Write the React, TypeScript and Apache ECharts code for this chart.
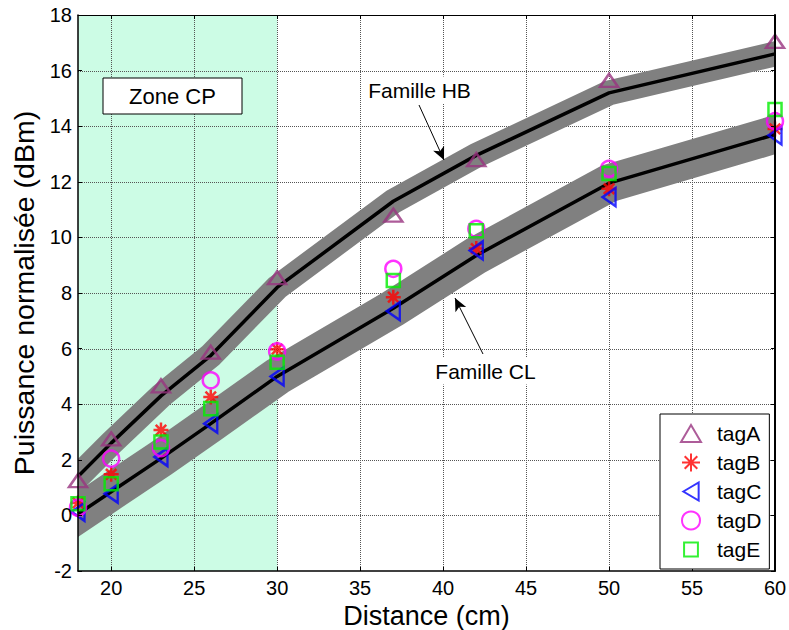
import React, { useEffect, useRef } from 'react';
import * as echarts from 'echarts';

const distances = [18, 20, 23, 26, 30, 37, 42, 50, 60];
const tagA = [1.25, 2.75, 4.66, 5.87, 8.55, 10.8, 12.8, 15.65, 17.05];
const tagB = [0.45, 1.48, 3.07, 4.26, 5.98, 7.85, 9.6, 11.75, 13.9];
const tagC = [0.13, 0.78, 2.1, 3.3, 5.0, 7.35, 9.53, 11.45, 13.67];
const tagD = [0.28, 2.04, 2.42, 4.86, 5.9, 8.87, 10.31, 12.47, 14.18];
const tagE = [0.42, 1.14, 2.64, 3.84, 5.51, 8.45, 10.24, 12.3, 14.6];
const familleHB = [1.4, 2.6, 4.3, 5.75, 8.2, 11.3, 12.95, 15.2, 16.6];
const familleCL = [0.05, 0.85, 2.05, 3.3, 5.0, 7.45, 9.35, 11.95, 13.7];
const xTicks = [20, 25, 30, 35, 40, 45, 50, 55, 60];
const yTicks = [-2, 0, 2, 4, 6, 8, 10, 12, 14, 16, 18];
const xRange = [18, 60];
const yRange = [-2, 18];
const yStep = 2;
const zoneCP = [18, 30];

const FONT = "'Liberation Sans', Arial, Helvetica, sans-serif";
const ASTERISK = 'path://M10,0 L10,20 M0,10 L20,10 M3,3 L17,17 M3,17 L17,3';
const TRI_UP = 'path://M10,0 L20,17 L0,17 Z';
const TRI_LEFT = 'path://M0,10 L17,0 L17,20 Z';
const SQUARE = 'path://M-1.5,-1.5 M0,0 L10,0 L10,10 L0,10 Z M11.5,11.5';

const tags = [
  { name: 'tagA', values: tagA, color: '#993380', symbol: TRI_UP, size: [18, 15.3] },
  { name: 'tagB', values: tagB, color: '#ff0000', symbol: ASTERISK, size: [15, 15] },
  { name: 'tagC', values: tagC, color: '#0000ff', symbol: TRI_LEFT, size: [15.3, 18] },
  { name: 'tagD', values: tagD, color: '#ff00ff', symbol: 'circle', size: [16, 16] },
  { name: 'tagE', values: tagE, color: '#00ee00', symbol: SQUARE, size: [17, 17] },
];

const pairs = (vals: number[]) => distances.map((d, i) => [d, vals[i]]);

const bandSeries = (vals: number[], width: number) => ({
  type: 'custom',
  data: pairs(vals),
  encode: { x: 0, y: 1 },
  clip: true,
  silent: true,
  z: 2,
  renderItem: (params: any, api: any) => {
    if (params.dataIndex !== 0) return null;
    const pts = distances.map((d, i) => api.coord([d, vals[i]]));
    return {
      type: 'polyline',
      shape: { points: pts },
      style: { stroke: '#808080', lineWidth: width, fill: null, lineJoin: 'miter', lineCap: 'square' },
    };
  },
});

// Zone CP shading (translucent, so grid lines always show through)
const zoneSeries = {
  type: 'custom',
  data: [[zoneCP[0], zoneCP[1]]],
  encode: { x: [0, 1] },
  clip: true,
  silent: true,
  z: 0.5,
  renderItem: (params: any, api: any) => {
    const tl = api.coord([zoneCP[0], yRange[1]]);
    const br = api.coord([zoneCP[1], yRange[0]]);
    return {
      type: 'rect', z2: -10,
      shape: { x: tl[0], y: tl[1], width: br[0] - tl[0], height: br[1] - tl[1] },
      style: { fill: 'rgba(51,243,151,0.25)' },
    };
  },
};

const gridSeries = {
  type: 'custom',
  data: [[xRange[0], yRange[0]]],
  encode: { x: 0, y: 1 },
  clip: true,
  silent: true,
  z: 1.5,
  renderItem: (params: any, api: any) => {
    const children: any[] = [];
    const gridStyle = { stroke: '#555555', lineWidth: 1, lineDash: [1, 1], fill: null };
    xTicks.forEach((v) => {
      const a = api.coord([v, yRange[0]]);
      const b = api.coord([v, yRange[1]]);
      const x = Math.round(a[0]) + 0.5;
      children.push({ type: 'line', z2: 10, shape: { x1: x, y1: a[1], x2: x, y2: b[1] }, style: gridStyle });
    });
    yTicks.forEach((v) => {
      const a = api.coord([xRange[0], v]);
      const b = api.coord([xRange[1], v]);
      const y = Math.round(a[1]) + 0.5;
      children.push({ type: 'line', z2: 10, shape: { x1: a[0], y1: y, x2: b[0], y2: y }, style: gridStyle });
    });
    return { type: 'group', children };
  },
};

export default function App() {
  const ref = useRef<HTMLDivElement>(null);
  useEffect(() => {
    if (!ref.current) return;
    const chart = echarts.init(ref.current, undefined, { renderer: 'svg' });
    const axisLineStyle = { color: '#000', width: 1.5 };
    const option: any = {
      animation: false,
      backgroundColor: '#fff',
      textStyle: { fontFamily: FONT },
      grid: { left: 78, right: 14, top: 15, bottom: 59, containLabel: false, outerBoundsMode: 'none' },
      xAxis: [
        {
          type: 'value', min: xRange[0], max: xRange[1], position: 'bottom', z: 5,
          name: 'Distance (cm)', nameLocation: 'middle', nameGap: 22,
          nameTextStyle: { fontSize: 27, lineHeight: 27, color: '#000', fontFamily: FONT },
          axisLine: { onZero: false, lineStyle: axisLineStyle },
          axisTick: { show: true, inside: true, length: 4, customValues: xTicks, lineStyle: { color: '#000' } },
          axisLabel: { customValues: xTicks, fontSize: 20, color: '#000', margin: 7, fontFamily: FONT },
          splitLine: { show: false },
        },
        {
          type: 'value', min: xRange[0], max: xRange[1], position: 'top', z: 5,
          axisLine: { onZero: false, lineStyle: { color: '#000', width: 1 } },
          axisTick: { show: true, inside: true, length: 4, customValues: xTicks, lineStyle: { color: '#000' } },
          axisLabel: { show: false },
          splitLine: { show: false },
        },
      ],
      yAxis: [
        {
          type: 'value', min: yRange[0], max: yRange[1], interval: yStep, position: 'left', z: 5,
          name: 'Puissance normalisée (dBm)', nameLocation: 'middle', nameGap: 36,
          nameTextStyle: { fontSize: 28.5, color: '#000', fontFamily: FONT },
          axisLine: { show: true, onZero: false, lineStyle: axisLineStyle },
          axisTick: { show: true, inside: true, length: 4, lineStyle: { color: '#000' } },
          axisLabel: { fontSize: 20, color: '#000', margin: 6, fontFamily: FONT },
          splitLine: { show: false },
        },
        {
          type: 'value', min: yRange[0], max: yRange[1], interval: yStep, position: 'right', z: 5,
          axisLine: { show: true, onZero: false, lineStyle: { color: '#000', width: 2 } },
          axisTick: { show: true, inside: true, length: 4, lineStyle: { color: '#000' } },
          axisLabel: { show: false },
          splitLine: { show: false },
        },
      ],
      legend: {
        data: tags.map((t) => t.name),
        orient: 'vertical',
        left: 660, top: 414, z: 6,
        padding: [9, 8, 9, 20],
        itemGap: 8, itemWidth: 20, itemHeight: 18,
        borderColor: '#000', borderWidth: 1, backgroundColor: '#fff',
        textStyle: { fontSize: 21, color: '#000', lineHeight: 20, padding: [0, 0, 0, 11], fontFamily: FONT },
        selectedMode: false,
      },
      graphic: [
        { type: 'rect', shape: { x: 103, y: 78, width: 139, height: 36 }, style: { fill: '#fff', stroke: '#000', lineWidth: 1 }, z: 10 },
        { type: 'text', x: 172.5, y: 96, style: { text: 'Zone CP', fontSize: 22, fill: '#000', align: 'center', verticalAlign: 'middle', fontFamily: FONT }, z: 11 },
        { type: 'text', x: 419.5, y: 90, style: { text: 'Famille HB', fontSize: 21, fill: '#000', align: 'center', verticalAlign: 'middle', backgroundColor: '#fff', padding: [3, 3], fontFamily: FONT }, z: 11 },
        { type: 'text', x: 485.5, y: 371, style: { text: 'Famille CL', fontSize: 21, fill: '#000', align: 'center', verticalAlign: 'middle', backgroundColor: '#fff', padding: [3, 3], fontFamily: FONT }, z: 11 },
      ],
      series: [
        zoneSeries,
        gridSeries,
        bandSeries(familleCL, 38),
        bandSeries(familleHB, 25),
        { type: 'line', name: 'lineCL', data: pairs(familleCL), symbol: 'none', silent: true, z: 2, clip: true,
          lineStyle: { color: '#000', width: 3.5 } },
        { type: 'line', name: 'lineHB', data: pairs(familleHB), symbol: 'none', silent: true, z: 2, clip: true,
          lineStyle: { color: '#000', width: 3.5 } },
        ...tags.map((t) => ({
          type: 'scatter', name: t.name, data: pairs(t.values), symbol: t.symbol, symbolSize: t.size,
          symbolKeepAspect: true, clip: false, z: 3, silent: true,
          itemStyle: { color: 'rgba(0,0,0,0)', borderColor: t.color, borderWidth: 2.5 },
        })),
        {
          type: 'line', data: [], z: 4, silent: true,
          markLine: {
            silent: true, symbol: ['none', 'arrow'], symbolSize: [9, 13],
            label: { show: false },
            lineStyle: { color: '#000', width: 1, type: 'solid' },
            data: [
              [{ x: 419, y: 105 }, { x: 444, y: 160 }],
              [{ x: 483, y: 354 }, { x: 455, y: 298 }],
            ],
          },
        },
      ],
    };
    chart.setOption(option);
    return () => chart.dispose();
  }, []);
  return <div ref={ref} style={{ position: 'fixed', left: 0, top: 0, width: 789, height: 630 }} />;
}
